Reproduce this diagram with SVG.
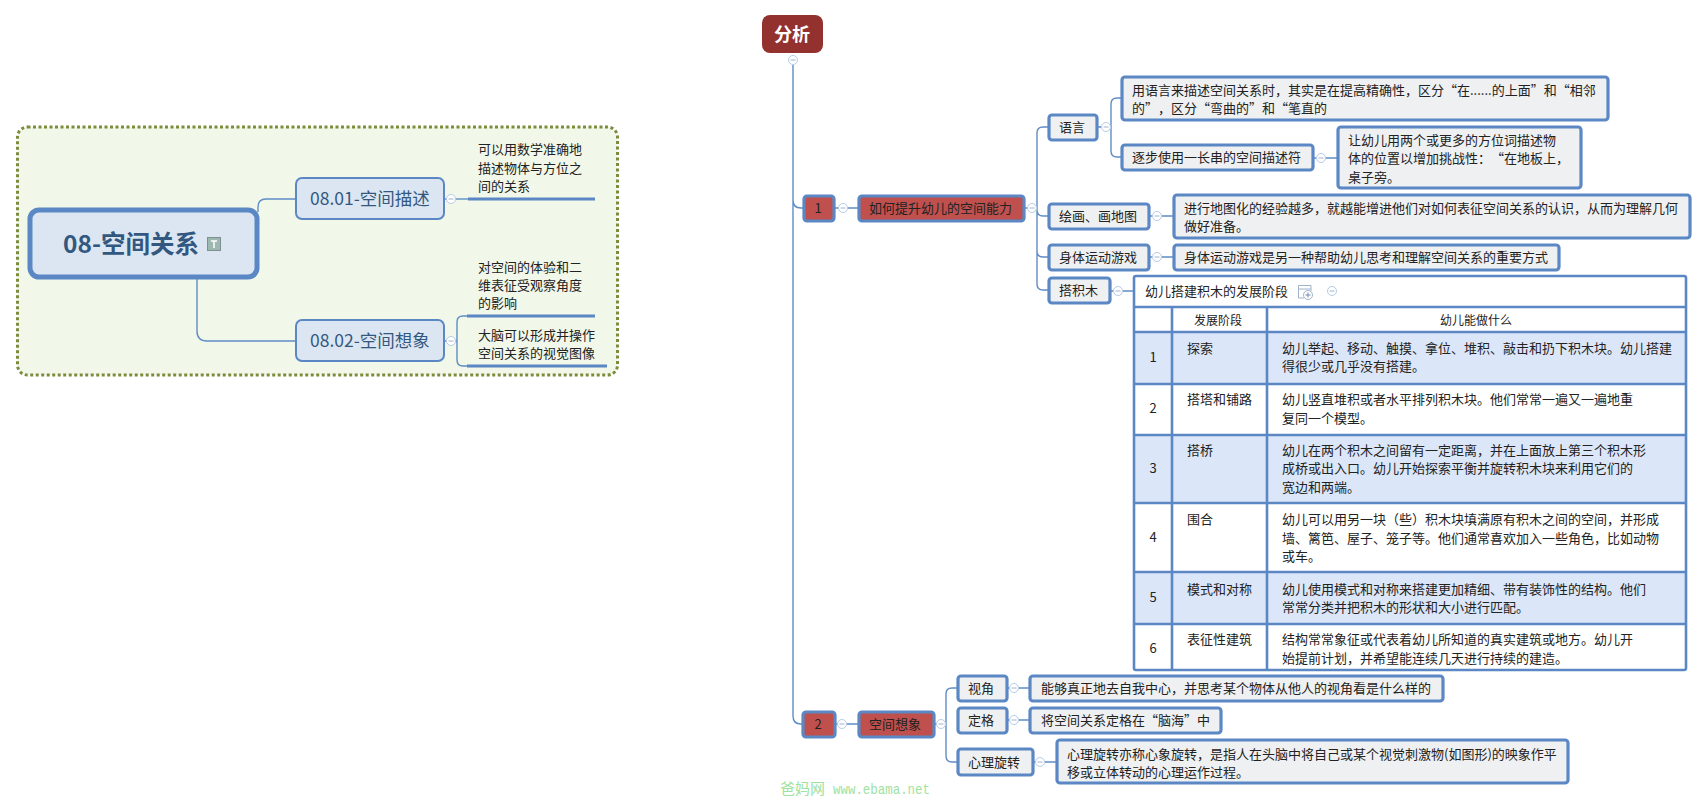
<svg xmlns="http://www.w3.org/2000/svg" width="1708" height="801" viewBox="0 0 1708 801">
<style>
text{font-family:"Noto Sans CJK SC","Liberation Sans",sans-serif;fill:#222;font-size:13px;text-spacing-trim:space-all}
.c{fill:none;stroke:#5f8dc6;stroke-width:1.4}
.n{fill:#eff0f2;stroke:#5b88c4;stroke-width:3.2}
.r{fill:#c0504d;stroke:#5b88c4;stroke-width:3.2}
.t{stroke:#5b88c4;stroke-width:2.6;fill:none}
.m{text-anchor:middle}
.u{fill:none;stroke:#5b88c4;stroke-width:3}
.band{fill:#dce6f9}
.sm{font-size:12px}
.big{font-size:17.500px;fill:#33587f}
</style>
<defs>
<g id="col"><circle r="4.5" fill="#fff" stroke="#b5cbe6" stroke-width="1"/><line x1="-2.5" x2="2.5" stroke="#9fb4cc" stroke-width="1"/></g>
</defs>

<g id="boundary"><rect x="17.5" y="127" width="600" height="248" rx="10" fill="#f1f7e9" stroke="#7c8c3c" stroke-width="3" stroke-dasharray="3 2.5"/></g>

<g id="connectors">
<path class="c" d="M258 212V207Q258 199 266 199H296"/>
<path class="c" d="M197 279V331Q197 341 207 341H296"/>
<path class="c" d="M444 199H468"/>
<path class="c" d="M444 341H457M467 316H463Q457 316 457 322V360Q457 366 463 366H467"/>
<path class="c" d="M793 65V200Q793 208 801 208H803M793 200V716Q793 724 801 724H802"/>
<path class="c" d="M835 208H858M835 724H858"/>
<path class="c" d="M1025 208H1037M1048 127H1043Q1037 127 1037 133V284Q1037 290 1043 290H1048M1037 210Q1037 216 1043 216H1048M1037 251Q1037 257 1043 257H1048"/>
<path class="c" d="M1098 127H1111M1121 98H1117Q1111 98 1111 104V151Q1111 157 1117 157H1121"/>
<path class="c" d="M1314 158H1337M1150 216H1173M1150 257H1173M1111 291H1133"/>
<path class="c" d="M935 724H946M957 688H952Q946 688 946 694V756Q946 762 952 762H957"/>
<path class="c" d="M1007 688H1029M1007 720H1029M1033 762H1056"/>
</g>

<g id="root"><rect x="30" y="210" width="227" height="67" rx="9" fill="#dce6f2" stroke="#5b88c4" stroke-width="5"/>
<text x="63" y="253" style="font-size:24.500px;font-weight:bold;fill:#33587f">08-空间关系</text>
<rect x="207.500" y="237.500" width="13" height="13" fill="#9db8b0" stroke="#7f8f8f"/><path d="M211 241H217M214 241V248" stroke="#fff" stroke-width="1.500" fill="none"/></g>

<g id="n0801"><rect x="296" y="178" width="148" height="41" rx="6" fill="#dce6f2" stroke="#5b88c4" stroke-width="2"/><text class="big" x="310" y="205">08.01-空间描述</text></g>
<g id="n0802"><rect x="296" y="320" width="148" height="41" rx="6" fill="#dce6f2" stroke="#5b88c4" stroke-width="2"/><text class="big" x="310" y="347">08.02-空间想象</text></g>
<use href="#col" x="451" y="199"/><use href="#col" x="451" y="341"/>

<g id="note1"><text x="478" y="154">可以用数学准确地</text><text x="478" y="173">描述物体与方位之</text><text x="478" y="191">间的关系</text><line class="u" x1="468" x2="595" y1="199" y2="199"/></g>
<g id="note2"><text x="478" y="272">对空间的体验和二</text><text x="478" y="290">维表征受观察角度</text><text x="478" y="308">的影响</text><line class="u" x1="467" x2="595" y1="316" y2="316"/></g>
<g id="note3"><text x="478" y="340">大脑可以形成并操作</text><text x="478" y="358">空间关系的视觉图像</text><line class="u" x1="467" x2="607" y1="366" y2="366"/></g>

<g id="analysis"><rect x="762" y="15" width="61" height="38" rx="8" fill="#93312f"/><text class="m" x="792" y="41" style="font-size:18px;font-weight:bold;fill:#fff">分析</text></g>
<use href="#col" x="793" y="60"/>

<g id="num1"><rect class="r" x="804" y="196" width="30" height="25" rx="3"/><text class="m" x="818" y="213">1</text></g>
<use href="#col" x="843" y="208"/>
<g id="t1"><rect class="r" x="859" y="196" width="165" height="25" rx="3"/><text x="869" y="213">如何提升幼儿的空间能力</text></g>
<use href="#col" x="1032" y="208"/>
<g id="yy"><rect class="n" x="1049" y="115" width="48" height="25" rx="3"/><text x="1059" y="132">语言</text></g>
<use href="#col" x="1106" y="127"/>
<g id="yy1"><rect class="n" x="1122" y="77" width="486" height="43" rx="3"/><text x="1132" y="95">用语言来描述空间关系时，其实是在提高精确性，区分“在......的上面”和“相邻</text><text x="1132" y="113">的”，区分“弯曲的”和“笔直的</text></g>
<g id="yy2"><rect class="n" x="1122" y="145" width="191" height="25" rx="3"/><text x="1132" y="162">逐步使用一长串的空间描述符</text></g>
<use href="#col" x="1321" y="158"/>
<g id="yy3"><rect class="n" x="1338" y="127" width="243" height="61" rx="3"/><text x="1348" y="145">让幼儿用两个或更多的方位词描述物</text><text x="1348" y="163">体的位置以增加挑战性：“在地板上，</text><text x="1348" y="182">桌子旁。</text></g>
<g id="hh"><rect class="n" x="1049" y="204" width="100" height="25" rx="3"/><text x="1059" y="221">绘画、画地图</text></g>
<use href="#col" x="1157" y="216"/>
<g id="hh1"><rect class="n" x="1174" y="195" width="516" height="43" rx="3"/><text x="1184" y="213">进行地图化的经验越多，就越能增进他们对如何表征空间关系的认识，从而为理解几何</text><text x="1184" y="231">做好准备。</text></g>
<g id="st"><rect class="n" x="1049" y="245" width="100" height="25" rx="3"/><text x="1059" y="262">身体运动游戏</text></g>
<use href="#col" x="1157" y="257"/>
<g id="st1"><rect class="n" x="1174" y="245" width="385" height="25" rx="3"/><text x="1184" y="262">身体运动游戏是另一种帮助幼儿思考和理解空间关系的重要方式</text></g>
<g id="jm"><rect class="n" x="1049" y="278" width="61" height="25" rx="3"/><text x="1059" y="295">搭积木</text></g>
<use href="#col" x="1118" y="291"/>

<g id="table">
<rect x="1134" y="276" width="552" height="394" fill="#fff"/>
<rect class="band" x="1134" y="332" width="552" height="52"/><rect class="band" x="1134" y="435" width="552" height="68"/><rect class="band" x="1134" y="572" width="552" height="52"/>
<path class="t" d="M1134 307H1686M1134 332H1686M1134 384H1686M1134 435H1686M1134 503H1686M1134 572H1686M1134 624H1686M1172 307V670M1267 307V670"/>
<rect x="1134" y="276" width="552" height="394" rx="2" fill="none" stroke="#5b88c4" stroke-width="2.600"/>
<text x="1145" y="296">幼儿搭建积木的发展阶段</text>
<path d="M1298.500 285.500H1311V291M1298.500 285.500V298H1304M1298.500 289H1311" fill="none" stroke="#9fb4cc"/><circle cx="1308" cy="295" r="4.500" fill="#fff" stroke="#9fb4cc"/><path d="M1305.500 295H1310.500M1308 292.500V297.500" stroke="#6f8fb8"/>
<use href="#col" x="1332" y="291"/>
<text class="m sm" x="1218" y="325">发展阶段</text><text class="m sm" x="1476" y="325">幼儿能做什么</text>
<text class="m" x="1153" y="362">1</text><text x="1187" y="353">探索</text><text x="1282" y="353">幼儿举起、移动、触摸、拿位、堆积、敲击和扔下积木块。幼儿搭建</text><text x="1282" y="371">得很少或几乎没有搭建。</text>
<text class="m" x="1153" y="413">2</text><text x="1187" y="404">搭塔和铺路</text><text x="1282" y="404">幼儿竖直堆积或者水平排列积木块。他们常常一遍又一遍地重</text><text x="1282" y="423">复同一个模型。</text>
<text class="m" x="1153" y="473">3</text><text x="1187" y="455">搭桥</text><text x="1282" y="455">幼儿在两个积木之间留有一定距离，并在上面放上第三个积木形</text><text x="1282" y="473">成桥或出入口。幼儿开始探索平衡并旋转积木块来利用它们的</text><text x="1282" y="492">宽边和两端。</text>
<text class="m" x="1153" y="542">4</text><text x="1187" y="524">围合</text><text x="1282" y="524">幼儿可以用另一块（些）积木块填满原有积木之间的空间，并形成</text><text x="1282" y="543">墙、篱笆、屋子、笼子等。他们通常喜欢加入一些角色，比如动物</text><text x="1282" y="561">或车。</text>
<text class="m" x="1153" y="602">5</text><text x="1187" y="594">模式和对称</text><text x="1282" y="594">幼儿使用模式和对称来搭建更加精细、带有装饰性的结构。他们</text><text x="1282" y="612">常常分类并把积木的形状和大小进行匹配。</text>
<text class="m" x="1153" y="653">6</text><text x="1187" y="644">表征性建筑</text><text x="1282" y="644">结构常常象征或代表着幼儿所知道的真实建筑或地方。幼儿开</text><text x="1282" y="663">始提前计划，并希望能连续几天进行持续的建造。</text>
</g>

<g id="num2"><rect class="r" x="803" y="712" width="32" height="25" rx="3"/><text class="m" x="818" y="729">2</text></g>
<use href="#col" x="842" y="724"/>
<g id="t2"><rect class="r" x="859" y="712" width="75" height="25" rx="3"/><text x="869" y="729">空间想象</text></g>
<use href="#col" x="941" y="724"/>
<g id="sj"><rect class="n" x="958" y="676" width="49" height="25" rx="3"/><text x="968" y="693">视角</text></g>
<use href="#col" x="1014" y="688"/>
<g id="sj1"><rect class="n" x="1030" y="676" width="413" height="25" rx="3"/><text x="1041" y="693">能够真正地去自我中心，并思考某个物体从他人的视角看是什么样的</text></g>
<g id="dg"><rect class="n" x="958" y="708" width="49" height="25" rx="3"/><text x="968" y="725">定格</text></g>
<use href="#col" x="1014" y="720"/>
<g id="dg1"><rect class="n" x="1030" y="708" width="191" height="25" rx="3"/><text x="1041" y="725">将空间关系定格在“脑海”中</text></g>
<g id="xl"><rect class="n" x="958" y="749" width="75" height="26" rx="3"/><text x="968" y="767">心理旋转</text></g>
<use href="#col" x="1040" y="762"/>
<g id="xl1"><rect class="n" x="1057" y="740" width="511" height="43" rx="3"/><text x="1067" y="759">心理旋转亦称心象旋转，是指人在头脑中将自己或某个视觉刺激物(如图形)的映象作平</text><text x="1067" y="777">移或立体转动的心理运作过程。</text></g>

<text id="watermark" y="794" style="font-size:15px;fill:#9ee29e"><tspan x="780">爸妈网 </tspan><tspan x="833" textLength="97" lengthAdjust="spacingAndGlyphs" style="font-family:'Liberation Mono',monospace">www.ebama.net</tspan></text>
</svg>
